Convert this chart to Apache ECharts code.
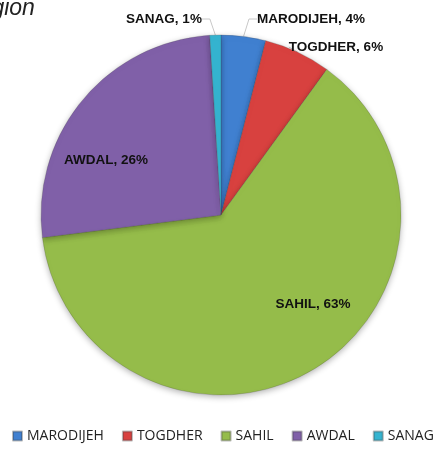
<!DOCTYPE html>
<html>
<head>
<meta charset="utf-8">
<script src="https://cdn.jsdelivr.net/npm/echarts@6/dist/echarts.min.js"></script>
<style>
    html, body { margin: 0; padding: 0; background: #fff; }
    #region_pie { width: 438px; height: 451px; }
</style>
</head>
<body>
<div id="region_pie"></div>
<script>
    // data
    const regions = ['MARODIJEH', 'TOGDHER', 'SAHIL', 'AWDAL', 'SANAG'];
    const shares = [4, 6, 63, 26, 1];
    const sliceColors = ['#4080D0', '#D8413F', '#95BC4A', '#8060A8', '#35B4D0'];
    const labelSide = ['outside', 'outside', 'inside', 'inside', 'outside'];
    // where each label sits (label centre, px)
    const labelSpots = [[311, 19], [336, 47], [313, 304], [106, 160], [164, 19]];

    const chart = echarts.init(document.getElementById('region_pie'));

    let option = {
        title: {
            text: 'Region',
            left: -43,
            top: -8,
            textStyle: {
                fontFamily: 'Liberation Sans',
                fontStyle: 'italic',
                fontWeight: 'normal',
                fontSize: 23,
                color: '#222'
            }
        },
        legend: {
            bottom: 8,
            left: 12,
            right: 0,
            padding: 0,
            icon: 'rect',
            itemWidth: 9,
            itemHeight: 9,
            itemGap: 18,
            textStyle: {
                fontFamily: 'Open Sans',
                fontSize: 14,
                color: '#222'
            },
            data: regions
        },
        series: [
            {
                name: 'Region',
                type: 'pie',
                center: [221, 215],
                radius: 180,
                startAngle: 90,
                clockwise: true,
                itemStyle: {
                    borderColor: 'rgba(60,60,60,0.35)',
                    borderWidth: 0.6,
                    shadowBlur: 6,
                    shadowOffsetY: 2,
                    shadowColor: 'rgba(0,0,0,0.3)'
                },
                label: {
                    formatter: '{b}, {d}%',
                    fontFamily: 'Liberation Sans',
                    fontWeight: 'bold',
                    fontSize: 13.5,
                    color: '#111'
                },
                labelLine: {
                    show: true,
                    length: 8,
                    length2: 8,
                    lineStyle: { color: '#c8c8c8', width: 1 }
                },
                labelLayout: function (params) {
                    const p = labelSpots[params.dataIndex];
                    return { x: p[0], y: p[1], align: 'center', verticalAlign: 'middle' };
                },
                data: regions.map((name, i) => ({
                    name: name,
                    value: shares[i],
                    itemStyle: { color: sliceColors[i] },
                    label: { position: labelSide[i] },
                    labelLine: { show: labelSide[i] === 'outside' }
                }))
            }
        ]
    };

    chart.setOption(option);
</script>
</body>
</html>
